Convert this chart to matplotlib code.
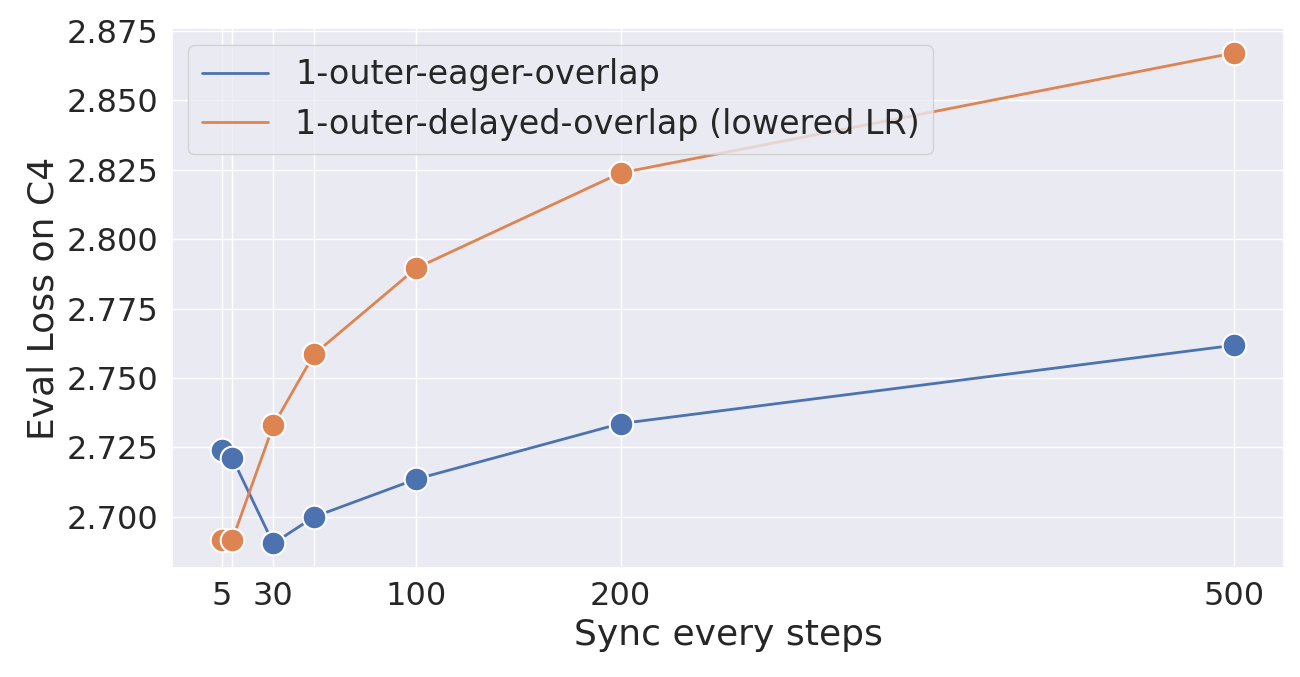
import matplotlib
matplotlib.use('Agg')
import matplotlib.pyplot as plt
import seaborn as sns
from matplotlib.lines import Line2D

sync_steps = [5, 10, 30, 50, 100, 200, 500]
tick_labels = ['5', '', '30', '', '100', '200', '500']
eager_loss = [2.7239, 2.7211, 2.6904, 2.7000, 2.7136, 2.7336, 2.7618]
delayed_loss = [2.6918, 2.6918, 2.7329, 2.7586, 2.7896, 2.8239, 2.8671]

sns.set_theme(style='darkgrid')
plt.rcParams['font.family'] = ['DejaVu Sans']

fig, ax = plt.subplots(figsize=(13, 6.77), dpi=100)
colors = sns.color_palette()

ax.plot(sync_steps, eager_loss, color=colors[0], linewidth=2,
        marker='o', markersize=17, markeredgecolor='white', markeredgewidth=1.5,
        label='1-outer-eager-overlap')
ax.plot(sync_steps, delayed_loss, color=colors[1], linewidth=2,
        marker='o', markersize=17, markeredgecolor='white', markeredgewidth=1.5,
        label='1-outer-delayed-overlap (lowered LR)')

ax.set_xticks(sync_steps)
ax.set_xticklabels(tick_labels)
ax.tick_params(axis='both', labelsize=23)
ax.set_xlabel('Sync every steps', fontsize=26)
ax.set_ylabel('Eval Loss on C4', fontsize=26)

# legend shows lines only
handles, labels = ax.get_legend_handles_labels()
handles = [Line2D([], [], color=h.get_color(), linewidth=2) for h in handles]
ax.legend(handles, labels, loc='upper left', fontsize=24)

fig.subplots_adjust(left=0.132, right=0.988, top=0.958, bottom=0.161)
fig.savefig('out.png')
